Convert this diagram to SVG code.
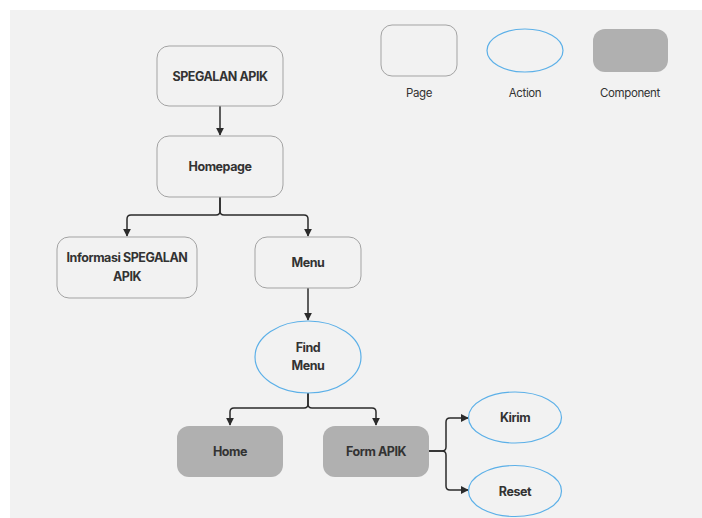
<svg xmlns="http://www.w3.org/2000/svg" width="702" height="518" viewBox="0 0 702 518">
  <style>
    .page { fill: #f2f2f2; stroke: #a3a3a3; stroke-width: 1; }
    .action { fill: #f2f2f2; stroke: #5cb0e8; stroke-width: 1.2; }
    .comp { fill: #b0b0b0; stroke: none; }
    .lbl { font-family: Inter, "Liberation Sans", sans-serif; font-size: 12.5px; font-weight: 700; fill: #333333; text-anchor: middle; letter-spacing: -0.45px; }
    .leg { font-family: Inter, "Liberation Sans", sans-serif; font-size: 11.5px; font-weight: 400; fill: #333333; text-anchor: middle; letter-spacing: -0.4px; }
    .wire { fill: none; stroke: #2b2b2b; stroke-width: 1.5; marker-end: url(#arrow); }
  </style>
  <defs>
    <marker id="arrow" viewBox="0 0 10 10" refX="9" refY="5" markerWidth="8" markerHeight="8" markerUnits="userSpaceOnUse" orient="auto">
      <path d="M0,0 L10,5 L0,10 z" fill="#2b2b2b"/>
    </marker>
  </defs>

  <!-- canvas -->
  <rect x="0" y="0" width="702" height="518" fill="#ffffff"/>
  <rect x="10" y="10" width="692" height="508" fill="#f2f2f2"/>

  <!-- legend -->
  <g id="legend-page">
    <rect class="page" x="381" y="25" width="76" height="51" rx="11"/>
    <text class="leg" x="419" y="97">Page</text>
  </g>
  <g id="legend-action">
    <ellipse class="action" cx="525" cy="50.5" rx="38" ry="21.5"/>
    <text class="leg" x="525" y="97">Action</text>
  </g>
  <g id="legend-component">
    <rect class="comp" x="593" y="29" width="75" height="43" rx="12"/>
    <text class="leg" x="630" y="97">Component</text>
  </g>

  <!-- connectors -->
  <g id="connectors">
    <path class="wire" d="M220 106 V135"/>
    <path class="wire" d="M220 197 V211 Q220 215 216 215 H131 Q127 215 127 219 V236"/>
    <path class="wire" d="M220 197 V211 Q220 215 224 215 H304 Q308 215 308 219 V236"/>
    <path class="wire" d="M308 288 V320"/>
    <path class="wire" d="M308 393 V404 Q308 408 304 408 H234 Q230 408 230 412 V425"/>
    <path class="wire" d="M308 393 V404 Q308 408 312 408 H372 Q376 408 376 412 V425"/>
    <path class="wire" d="M429 451 H442 Q446 451 446 447 V422 Q446 418 450 418 H468"/>
    <path class="wire" d="M429 451 H442 Q446 451 446 455 V486 Q446 490 450 490 H468"/>
  </g>

  <!-- pages -->
  <g id="spegalan-apik">
    <rect class="page" x="157" y="46" width="126" height="60" rx="12"/>
    <text class="lbl" x="220" y="81">SPEGALAN APIK</text>
  </g>
  <g id="homepage">
    <rect class="page" x="157" y="136" width="126" height="61" rx="12"/>
    <text class="lbl" x="220" y="171">Homepage</text>
  </g>
  <g id="informasi">
    <rect class="page" x="57" y="237" width="140" height="61" rx="12"/>
    <text class="lbl" x="127" y="262">Informasi SPEGALAN</text>
    <text class="lbl" x="127" y="281">APIK</text>
  </g>
  <g id="menu">
    <rect class="page" x="255" y="237" width="106" height="51" rx="12"/>
    <text class="lbl" x="308" y="267">Menu</text>
  </g>

  <!-- actions -->
  <g id="find-menu">
    <ellipse class="action" cx="308" cy="357" rx="53" ry="36"/>
    <text class="lbl" x="308" y="352">Find</text>
    <text class="lbl" x="308" y="370">Menu</text>
  </g>
  <g id="kirim">
    <ellipse class="action" cx="515" cy="417.5" rx="46.5" ry="25.5"/>
    <text class="lbl" x="515" y="422">Kirim</text>
  </g>
  <g id="reset">
    <ellipse class="action" cx="515" cy="491" rx="46.5" ry="25.5"/>
    <text class="lbl" x="515" y="496">Reset</text>
  </g>

  <!-- components -->
  <g id="home">
    <rect class="comp" x="177" y="426" width="106" height="51" rx="12"/>
    <text class="lbl" x="230" y="456">Home</text>
  </g>
  <g id="form-apik">
    <rect class="comp" x="323" y="426" width="106" height="51" rx="12"/>
    <text class="lbl" x="376" y="456">Form APIK</text>
  </g>
</svg>
